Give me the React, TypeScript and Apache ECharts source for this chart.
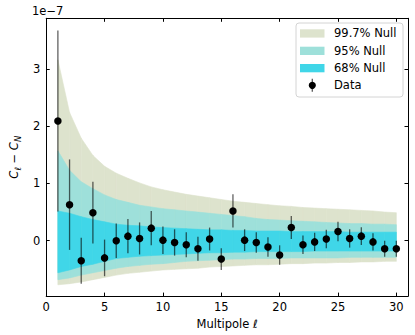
import React, { useEffect, useRef } from 'react';
import * as echarts from 'echarts';

const ells = [1, 2, 3, 4, 5, 6, 7, 8, 9, 10, 11, 12, 13, 14, 15, 16, 17, 18, 19, 20, 21, 22, 23, 24, 25, 26, 27, 28, 29, 30];

// bands in units of 1e-7
const upper997 = [3.16, 2.24, 1.79, 1.49, 1.30, 1.18, 1.09, 1.01, 0.94, 0.89, 0.85, 0.81, 0.78, 0.75, 0.72, 0.69, 0.67, 0.65, 0.63, 0.61, 0.60, 0.58, 0.57, 0.56, 0.55, 0.54, 0.53, 0.52, 0.50, 0.49];
const lower997 = [-0.77, -0.75, -0.72, -0.68, -0.64, -0.60, -0.57, -0.55, -0.53, -0.51, -0.50, -0.49, -0.48, -0.46, -0.45, -0.44, -0.43, -0.42, -0.42, -0.41, -0.40, -0.40, -0.39, -0.39, -0.38, -0.38, -0.37, -0.37, -0.36, -0.36];
const upper95 = [1.57, 1.23, 1.03, 0.91, 0.80, 0.72, 0.67, 0.62, 0.59, 0.56, 0.54, 0.52, 0.50, 0.48, 0.46, 0.44, 0.42, 0.39, 0.37, 0.36, 0.35, 0.34, 0.33, 0.32, 0.31, 0.30, 0.30, 0.29, 0.29, 0.28];
const lower95 = [-0.68, -0.65, -0.60, -0.56, -0.52, -0.48, -0.45, -0.43, -0.41, -0.40, -0.38, -0.36, -0.35, -0.34, -0.33, -0.32, -0.32, -0.31, -0.31, -0.31, -0.30, -0.30, -0.30, -0.30, -0.30, -0.29, -0.29, -0.29, -0.29, -0.29];
const upper68 = [0.52, 0.48, 0.42, 0.37, 0.33, 0.29, 0.27, 0.26, 0.24, 0.23, 0.22, 0.21, 0.20, 0.19, 0.19, 0.18, 0.18, 0.17, 0.17, 0.17, 0.16, 0.16, 0.16, 0.16, 0.16, 0.15, 0.15, 0.15, 0.15, 0.15];
const lower68 = [-0.56, -0.51, -0.45, -0.41, -0.36, -0.31, -0.29, -0.27, -0.26, -0.25, -0.24, -0.23, -0.22, -0.21, -0.21, -0.20, -0.20, -0.19, -0.19, -0.19, -0.19, -0.19, -0.18, -0.18, -0.18, -0.18, -0.18, -0.18, -0.18, -0.18];

const dataValues = [2.09, 0.63, -0.35, 0.49, -0.30, 0.00, 0.08, 0.04, 0.22, 0.01, -0.03, -0.07, -0.14, 0.03, -0.32, 0.52, 0.01, -0.03, -0.11, -0.25, 0.23, -0.07, -0.02, 0.03, 0.16, 0.04, 0.08, -0.02, -0.14, -0.14];
const dataErrors = [1.58, 0.79, 0.40, 0.54, 0.32, 0.30, 0.30, 0.28, 0.30, 0.24, 0.23, 0.22, 0.21, 0.20, 0.19, 0.29, 0.19, 0.18, 0.17, 0.17, 0.20, 0.16, 0.16, 0.16, 0.17, 0.16, 0.155, 0.15, 0.14, 0.14];

const legendNames = ['99.7% Null', '95% Null', '68% Null', 'Data'];
const xTicks = [0, 5, 10, 15, 20, 25, 30];
const yTicks = [0, 1, 2, 3];

const FONT = 'DejaVu Sans';
const C997 = '#dde3cd';
const C95 = '#9ee0da';
const C68 = '#40d6e8';

function band(name: string, lo: number[], hi: number[], color: string, z: number) {
  const segs: number[][] = [];
  for (let i = 0; i < ells.length - 1; i++) {
    segs.push([ells[i], lo[i], hi[i], ells[i + 1], lo[i + 1], hi[i + 1]]);
  }
  return {
    type: 'custom', name, silent: true, z,
    data: segs,
    encode: { x: [0, 3], y: [1, 2, 4, 5] },
    renderItem: (params: any, api: any) => {
      const a = api.coord([api.value(0), api.value(2)]);
      const b = api.coord([api.value(3), api.value(5)]);
      const c = api.coord([api.value(3), api.value(4)]);
      const d = api.coord([api.value(0), api.value(1)]);
      return {
        type: 'polygon',
        shape: { points: [a, b, c, d] },
        style: { fill: color, stroke: color, lineWidth: 0.6 },
      };
    },
  };
}

export default function App() {
  const ref = useRef<HTMLDivElement>(null);
  useEffect(() => {
    const chart = echarts.init(ref.current!, null, { renderer: 'svg' });
    const axisLine = { show: true, onZero: false, lineStyle: { color: '#000', width: 1 } };
    const tick = { show: true, inside: true, length: 3.5, lineStyle: { color: '#000', width: 1 } };
    const xFmt = (v: number) => (xTicks.includes(v) ? String(v) : '');
    const yFmt = (v: number) => {
      const r = Math.round(v);
      return Math.abs(v - r) < 1e-6 && yTicks.includes(r) ? String(r) : '';
    };
    const yMin = -0.967;
    const yMax = 3.885;
    const legendRows = [33.3, 50.7, 68, 85.3];
    const legendColors = [C997, C95, C68];
    const graphic: any[] = [
      { type: 'text', x: 32, y: 11, style: { text: '1e\u22127', fontSize: 11.5, fontFamily: FONT, fill: '#000', align: 'left', verticalAlign: 'middle' } },
      { type: 'rect', shape: { x: 296, y: 23, width: 107, height: 74, r: 3 }, style: { fill: 'rgba(255,255,255,0.8)', stroke: '#d4d4d4', lineWidth: 1 }, z: 100 },
    ];
    legendColors.forEach((c, i) => {
      graphic.push({ type: 'rect', shape: { x: 300, y: legendRows[i] - 4, width: 24.5, height: 8.3 }, style: { fill: c }, z: 101 });
    });
    legendNames.forEach((n, i) => {
      graphic.push({ type: 'text', x: 334, y: legendRows[i], style: { text: n, fontSize: 11.5, fontFamily: FONT, fill: '#000', align: 'left', verticalAlign: 'middle' }, z: 101 });
    });
    graphic.push({ type: 'line', shape: { x1: 312.3, y1: legendRows[3] - 6.5, x2: 312.3, y2: legendRows[3] + 6.5 }, style: { stroke: 'rgba(0,0,0,0.65)', lineWidth: 1.3 }, z: 101 });
    graphic.push({ type: 'circle', shape: { cx: 312.3, cy: legendRows[3], r: 3.6 }, style: { fill: '#000' }, z: 102 });

    chart.setOption({
      animation: false,
      backgroundColor: '#fff',
      textStyle: { fontFamily: FONT },
      grid: { left: 31.7, top: 18.3, right: 7, bottom: 36.7, containLabel: false },
      xAxis: [
        {
          type: 'value', min: 0, max: 31, interval: 5, position: 'bottom',
          axisLine, axisTick: tick, splitLine: { show: false },
          axisLabel: { formatter: xFmt, fontSize: 11.5, color: '#000', margin: 5, fontFamily: FONT },
          name: '{a|Multipole }{b|\u2113}', nameLocation: 'middle', nameGap: 17,
          nameTextStyle: {
            rich: {
              a: { fontSize: 11.5, fontFamily: FONT, color: '#000' },
              b: { fontSize: 11.5, fontFamily: FONT, fontStyle: 'italic', color: '#000' },
            },
          },
        },
        {
          type: 'value', min: 0, max: 31, interval: 5, position: 'top',
          axisLine, axisTick: tick, splitLine: { show: false }, axisLabel: { show: false },
        },
      ],
      yAxis: [
        {
          type: 'value', min: yMin, max: yMax, splitNumber: 5, position: 'left',
          axisLine, axisTick: tick, splitLine: { show: false },
          axisLabel: { formatter: yFmt, fontSize: 11.5, color: '#000', margin: 6, fontFamily: FONT },
          name: '{i|C}{s|\u2113}{m| \u2212 }{i|C}{s|N}', nameLocation: 'middle', nameGap: 16, nameRotate: 90,
          nameTextStyle: {
            rich: {
              i: { fontSize: 11.5, fontFamily: FONT, fontStyle: 'italic', color: '#000', lineHeight: 16 },
              m: { fontSize: 11.5, fontFamily: FONT, color: '#000', lineHeight: 16 },
              s: { fontSize: 8.5, fontFamily: FONT, fontStyle: 'italic', color: '#000', lineHeight: 10, verticalAlign: 'bottom' },
            },
          },
        },
        {
          type: 'value', min: yMin, max: yMax, splitNumber: 5, position: 'right',
          axisLine, axisTick: tick, splitLine: { show: false }, axisLabel: { show: false },
        },
      ],
      series: [
        band('99.7% Null', lower997, upper997, C997, 1),
        band('95% Null', lower95, upper95, C95, 2),
        band('68% Null', lower68, upper68, C68, 2.5),
        {
          type: 'custom', name: 'Data errors', silent: true,
          data: ells.map((l, i) => [l, dataValues[i] - dataErrors[i], dataValues[i] + dataErrors[i]]),
          encode: { x: 0, y: [1, 2] },
          renderItem: (params: any, api: any) => {
            const p1 = api.coord([api.value(0), api.value(1)]);
            const p2 = api.coord([api.value(0), api.value(2)]);
            return {
              type: 'line',
              shape: { x1: p1[0], y1: p1[1], x2: p2[0], y2: p2[1] },
              style: { stroke: 'rgba(0,0,0,0.62)', lineWidth: 1.3 },
            };
          },
          z: 3,
        },
        {
          type: 'scatter', name: 'Data', silent: true,
          data: ells.map((l, i) => [l, dataValues[i]]),
          symbol: 'circle', symbolSize: 7.5,
          itemStyle: { color: '#000', opacity: 1 },
          z: 4,
        },
      ],
      graphic,
    });
    return () => chart.dispose();
  }, []);
  return <div ref={ref} style={{ position: 'fixed', left: 0, top: 0, width: 415, height: 335 }} />;
}
